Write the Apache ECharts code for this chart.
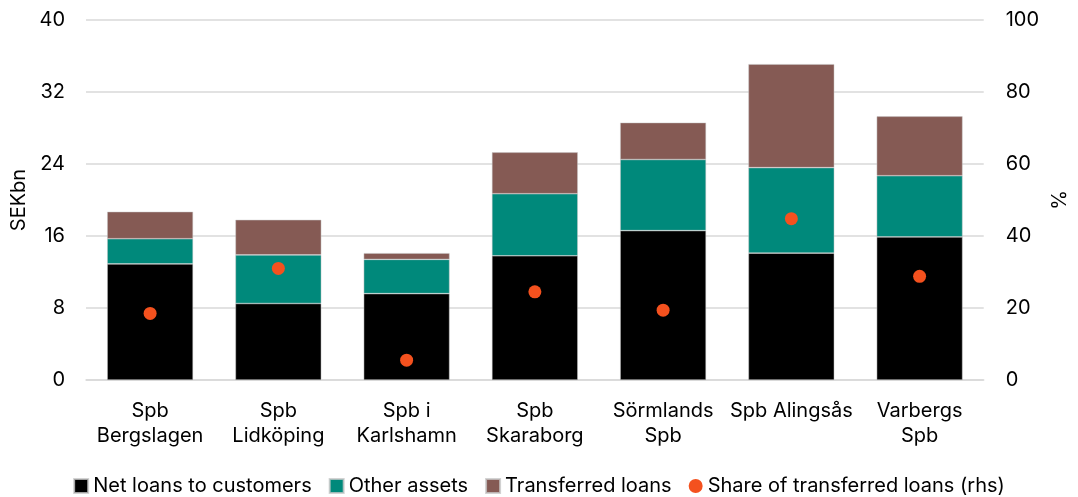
<!DOCTYPE html>
<html>
<head>
<meta charset="utf-8">
<script src="https://cdn.jsdelivr.net/npm/echarts@6/dist/echarts.min.js"></script>
<style>
  html, body { margin: 0; padding: 0; background: #fff; }
  #chart { width: 1078px; height: 497px; }
</style>
</head>
<body>
<div id="chart"></div>
<script>
// categories and values
const banks = ['Spb\nBergslagen', 'Spb\nLidköping', 'Spb i\nKarlshamn', 'Spb\nSkaraborg', 'Sörmlands\nSpb', 'Spb Alingsås', 'Varbergs\nSpb'];
const netLoans = [12.9, 8.5, 9.6, 13.8, 16.6, 14.1, 15.9];
const otherAssets = [2.8, 5.4, 3.8, 6.9, 7.9, 9.5, 6.8];
const transferredLoans = [3.0, 3.9, 0.7, 4.6, 4.1, 11.5, 6.6];
const shareTransferred = [18.5, 31.0, 5.5, 24.5, 19.4, 44.8, 28.8]; // %, rhs

const font = 'Inter';
const fs = 20;
const chart = echarts.init(document.getElementById('chart'));

const barStyle = (color) => ({
  color: color,
  borderColor: 'rgba(200,200,200,0.8)',
  borderWidth: 0.6
});

chart.setOption({
  animation: false,
  textStyle: { fontFamily: font, color: '#000' },
  grid: { left: 86, right: 92, top: 20, bottom: 117, containLabel: false },
  legend: {
    top: 471,
    left: 'center',
    itemWidth: 14,
    itemHeight: 14,
    itemGap: 17,
    textStyle: { fontSize: fs, fontFamily: font, color: '#000', padding: [0, 0, 0, 0] },
    data: [
      { name: 'Net loans to customers', icon: 'rect' },
      { name: 'Other assets', icon: 'rect' },
      { name: 'Transferred loans', icon: 'rect' },
      { name: 'Share of transferred loans (rhs)', icon: 'circle' }
    ]
  },
  xAxis: {
    type: 'category',
    data: banks,
    axisLine: { show: true, lineStyle: { color: '#d9d9d9', width: 1.5 } },
    axisTick: { show: false },
    axisLabel: { fontSize: fs, color: '#000', lineHeight: 25, margin: 18, interval: 0 }
  },
  yAxis: [
    {
      type: 'value',
      min: 0, max: 40, interval: 8,
      name: 'SEKbn',
      nameLocation: 'middle',
      nameGap: 54,
      nameRotate: 90,
      nameTextStyle: { fontSize: fs, color: '#000' },
      axisLine: { show: false },
      axisTick: { show: false },
      axisLabel: { fontSize: fs, color: '#000', margin: 21 },
      splitLine: { lineStyle: { color: '#d9d9d9', width: 1.5 } }
    },
    {
      type: 'value',
      min: 0, max: 100, interval: 20,
      name: '%',
      nameLocation: 'middle',
      nameGap: 62,
      nameRotate: 90,
      nameTextStyle: { fontSize: fs, color: '#000' },
      axisLine: { show: false },
      axisTick: { show: false },
      axisLabel: { fontSize: fs, color: '#000', margin: 22 },
      splitLine: { show: false }
    }
  ],
  series: [
    {
      name: 'Net loans to customers',
      type: 'bar',
      stack: 'total',
      barWidth: '67%',
      itemStyle: barStyle('#000000'),
      data: netLoans
    },
    {
      name: 'Other assets',
      type: 'bar',
      stack: 'total',
      itemStyle: barStyle('#00897B'),
      data: otherAssets
    },
    {
      name: 'Transferred loans',
      type: 'bar',
      stack: 'total',
      itemStyle: barStyle('#855A54'),
      data: transferredLoans
    },
    {
      name: 'Share of transferred loans (rhs)',
      type: 'scatter',
      yAxisIndex: 1,
      symbolSize: 13,
      itemStyle: { color: '#F4511E', opacity: 1 },
      z: 5,
      data: shareTransferred
    }
  ]
});
</script>
</body>
</html>
